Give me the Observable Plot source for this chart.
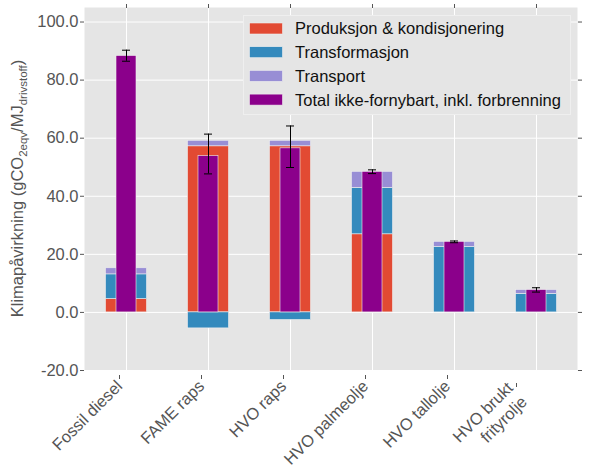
<!DOCTYPE html>
<html><head><meta charset="utf-8">
<script src="https://cdn.jsdelivr.net/npm/d3@7"></script>
<script src="https://cdn.jsdelivr.net/npm/@observablehq/plot@0.6"></script>
<style>
body{margin:0;background:#fff;font-family:"Liberation Sans",Arial,sans-serif;}
#chart{position:relative;width:591px;height:475px;}
</style></head><body><div id="chart"></div>
<script>
const categories = ["Fossil diesel","FAME raps","HVO raps","HVO palmeolje","HVO tallolje","HVO brukt\nfrityrolje"];
const seriesNames = ["Produksjon & kondisjonering","Transformasjon","Transport"];
const totalName = "Total ikke-fornybart, inkl. forbrenning";
const seriesColors = ["#E24A33","#348ABD","#988ED5"];
const totalColor = "#8B008B";
const produksjon = [4.6, 57.2, 57.2, 26.9, 0, 0];
const transformasjon = [8.5, -5.5, -2.6, 16.0, 22.6, 6.4];
const transport = [2.1, 1.9, 1.9, 5.5, 1.7, 1.3];
const total = [88.3, 53.8, 56.5, 48.4, 24.3, 7.7];
const errLow = [86.5, 47.7, 49.9, 47.8, 24.0, 7.0];
const errHigh = [90.3, 61.4, 64.2, 49.1, 24.6, 8.5];
const yTicks = [-20, 0, 20, 40, 60, 80, 100];

const seriesValues = [produksjon, transformasjon, transport];
const stacked = [];
categories.forEach((c, i) => {
  seriesNames.forEach((s, k) => stacked.push({cat: c, series: s, value: seriesValues[k][i]}));
});
const totals = categories.map((c, i) => ({cat: c, total: total[i], lo: errLow[i], hi: errHigh[i]}));
const singleLine = categories.filter(c => !c.includes("\n"));
const multiLine = categories.filter(c => c.includes("\n"));

const FONT = "Liberation Sans, Arial, sans-serif";
const plot = Plot.plot({
  width: 591, height: 475,
  marginLeft: 84, marginRight: 14, marginTop: 7, marginBottom: 105,
  style: {fontFamily: FONT, fontSize: "16.5px", color: "#555", background: "transparent", overflow: "visible"},
  x: {domain: categories, padding: 0, label: null},
  y: {domain: [-20, 105], label: null},
  color: {domain: seriesNames, range: seriesColors},
  marks: [
    Plot.frame({fill: "#E5E5E5", stroke: null}),
    Plot.gridY(yTicks, {stroke: "white", strokeOpacity: 1, strokeWidth: 1}),
    Plot.gridX({stroke: "white", strokeOpacity: 1, strokeWidth: 1}),
    Plot.barY(stacked, Plot.stackY({x: "cat", y: "value", fill: "series", z: "series", order: seriesNames,
      insetLeft: 20.5, insetRight: 20.5, stroke: "#EEEEEE", strokeWidth: 0.6})),
    Plot.barY(totals, {x: "cat", y: "total", fill: totalColor, insetLeft: 31, insetRight: 31, stroke: "#EEEEEE", strokeWidth: 0.6}),
    Plot.ruleX(totals, {x: "cat", y1: "lo", y2: "hi", stroke: "black", strokeWidth: 1}),
    Plot.tickY(totals, {x: "cat", y: "lo", insetLeft: 37, insetRight: 37, stroke: "black", strokeWidth: 1}),
    Plot.tickY(totals, {x: "cat", y: "hi", insetLeft: 37, insetRight: 37, stroke: "black", strokeWidth: 1}),
    Plot.axisY(yTicks, {anchor: "left", tickFormat: d => d.toFixed(1), tickSize: 4, tickPadding: 2, label: null}),
    Plot.axisY(yTicks, {anchor: "right", tickFormat: () => "", tickSize: 4, label: null}),
    Plot.axisX(singleLine, {anchor: "bottom", tickRotate: -45, tickSize: 4, tickPadding: 4, dx: -7, dy: 5, label: null}),
    Plot.axisX(multiLine, {anchor: "bottom", tickRotate: -45, tickSize: 4, tickPadding: 4, dx: -20, dy: 13, lineHeight: 1.2, label: null}),
    Plot.axisX({anchor: "top", tickFormat: () => "", tickSize: 4, label: null})
  ]
});
document.getElementById("chart").appendChild(plot);

const svg = d3.select(plot);
// y-axis title with subscripts
const yl = svg.append("text")
  .attr("transform", "translate(23,188.5) rotate(-90)")
  .attr("text-anchor", "middle")
  .attr("fill", "#555")
  .style("font-family", FONT).style("font-size", "16.5px");
yl.append("tspan").text("Klimapåvirkning (gCO");
yl.append("tspan").attr("dy", 4).style("font-size", "11.5px").text("2eqv");
yl.append("tspan").attr("dy", -4).text("/MJ");
yl.append("tspan").attr("dy", 4).style("font-size", "11.5px").text("drivstoff");
yl.append("tspan").attr("dy", -4).text(")");

// legend
const legendItems = seriesNames.map((s, i) => ({name: s, color: seriesColors[i]})).concat([{name: totalName, color: totalColor}]);
const lg = svg.append("g").attr("transform", "translate(243.5,15.5)");
lg.append("rect").attr("width", 327).attr("height", 99).attr("fill", "#E5E5E5").attr("stroke", "#EFEFEF").attr("stroke-width", 1);
legendItems.forEach((d, i) => {
  const row = lg.append("g").attr("transform", `translate(0,${13 + i * 23.7})`);
  row.append("rect").attr("x", 6).attr("y", -5.5).attr("width", 33).attr("height", 11).attr("fill", d.color).attr("stroke", "#EEEEEE").attr("stroke-width", 0.6);
  row.append("text").attr("x", 51.5).attr("dy", "0.36em").attr("fill", "#111").attr("text-anchor", "start")
    .style("font-family", FONT).style("font-size", "16.5px").text(d.name);
});
</script></body></html>
